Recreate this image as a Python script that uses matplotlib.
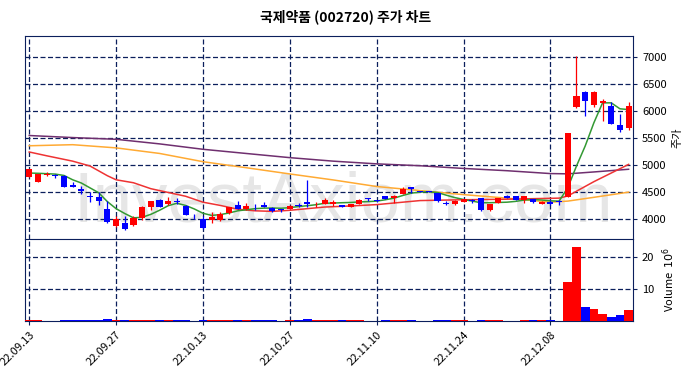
import matplotlib.pyplot as plt
import numpy as np

plt.rcParams['font.family'] = ['Noto Sans CJK KR', 'DejaVu Sans']

# 거래일 눈금 (10일 간격)
tick_pos = [0, 10, 20, 30, 40, 50, 60]
tick_labels = ['22.09.13', '22.09.27', '22.10.13', '22.10.27', '22.11.10', '22.11.24', '22.12.08']

# 일봉 OHLC
opens = [4770, 4690, 4820, 4810, 4800, 4630, 4560, 4420, 4410, 4190,
         3865, 3930, 3880, 4020, 4220, 4350, 4270, 4330, 4240, 4055,
         4000, 3975, 3980, 4110, 4260, 4180, 4225, 4260, 4200, 4170,
         4190, 4255, 4310, 4270, 4285, 4285, 4260, 4225, 4285, 4375,
         4340, 4425, 4380, 4460, 4585, 4510, 4505, 4480, 4300, 4270,
         4320, 4345, 4385, 4160, 4295, 4420, 4420, 4345, 4365, 4285,
         4305, 4320, 4400, 6070, 6360, 6115, 6145, 6095, 5735, 5675]
highs = [4930, 4840, 4870, 4835, 4810, 4675, 4610, 4505, 4505, 4340,
         4055, 4060, 4050, 4245, 4340, 4375, 4415, 4385, 4250, 4095,
         4050, 4120, 4125, 4225, 4325, 4295, 4280, 4305, 4220, 4180,
         4250, 4290, 4720, 4320, 4385, 4350, 4265, 4285, 4365, 4380,
         4350, 4430, 4435, 4590, 4590, 4520, 4515, 4485, 4335, 4350,
         4375, 4375, 4390, 4285, 4390, 4440, 4425, 4430, 4370, 4325,
         4350, 4345, 5600, 7010, 6370, 6365, 6225, 6175, 5950, 6165]
lows = [4770, 4680, 4795, 4760, 4590, 4585, 4470, 4310, 4265, 3925,
        3850, 3800, 3870, 3975, 4170, 4215, 4265, 4280, 4075, 4005,
        3820, 3925, 3960, 4100, 4185, 4165, 4170, 4215, 4130, 4120,
        4185, 4215, 4230, 4230, 4275, 4240, 4215, 4215, 4280, 4330,
        4310, 4370, 4295, 4455, 4485, 4490, 4495, 4320, 4265, 4265,
        4315, 4300, 4155, 4140, 4290, 4380, 4355, 4295, 4300, 4280,
        4250, 4250, 4400, 6060, 5910, 6070, 5805, 5760, 5605, 5655]
closes = [4925, 4830, 4840, 4795, 4600, 4590, 4510, 4410, 4340, 3945,
          4000, 3820, 4020, 4220, 4330, 4220, 4330, 4310, 4080, 4045,
          3825, 4035, 4100, 4220, 4190, 4240, 4215, 4225, 4155, 4160,
          4240, 4245, 4275, 4280, 4350, 4315, 4225, 4280, 4350, 4370,
          4335, 4375, 4430, 4550, 4555, 4500, 4500, 4325, 4270, 4340,
          4365, 4340, 4160, 4280, 4385, 4390, 4355, 4425, 4305, 4320,
          4275, 4310, 5600, 6270, 6180, 6360, 6190, 5765, 5640, 6100]
# 거래량 (백만 주)
volume = [0.25, 0.2, 0.1, 0.1, 0.2, 0.15, 0.15, 0.2, 0.2, 0.5,
          0.3, 0.2, 0.2, 0.25, 0.2, 0.15, 0.2, 0.15, 0.2, 0.1,
          0.2, 0.2, 0.15, 0.2, 0.15, 0.2, 0.15, 0.15, 0.15, 0.1,
          0.15, 0.15, 0.5, 0.15, 0.2, 0.15, 0.15, 0.15, 0.2, 0.1,
          0.1, 0.15, 0.2, 0.3, 0.2, 0.1, 0.1, 0.25, 0.15, 0.2,
          0.15, 0.1, 0.25, 0.2, 0.2, 0.1, 0.1, 0.2, 0.15, 0.15,
          0.15, 0.1, 12.0, 23.2, 4.2, 3.75, 2.2, 1.25, 1.9, 3.4]

# 이동평균선
ma5 = [4850, 4845, 4838, 4830, 4805, 4725, 4665, 4575, 4485, 4320,
       4190, 4100, 4020, 4030, 4085, 4160, 4245, 4290, 4250, 4185,
       4105, 4065, 4080, 4110, 4150, 4170, 4190, 4200, 4202, 4198,
       4208, 4230, 4244, 4263, 4290, 4294, 4300, 4305, 4315, 4320,
       4330, 4355, 4385, 4434, 4478, 4496, 4505, 4490, 4440, 4395,
       4360, 4330, 4300, 4300, 4305, 4310, 4325, 4350, 4360, 4350,
       4335, 4330, 4580, 4980, 5350, 5780, 6150, 6150, 6040, 6025]
ma20_idx = [0, 2, 5, 7, 9, 10, 12, 14, 16, 18, 20, 22, 24, 26, 28, 30, 32, 34,
            37, 40, 43, 45, 50, 55, 61, 62, 65, 69]
ma20 = [5240, 5170, 5070, 4980, 4800, 4725, 4670, 4560, 4490, 4420, 4310, 4250,
        4180, 4150, 4140, 4160, 4190, 4220, 4240, 4265, 4310, 4340, 4355, 4365,
        4385, 4425, 4690, 5010]
ma60_idx = [0, 5, 10, 15, 20, 25, 30, 35, 40, 45, 50, 55, 60, 62, 65, 69]
ma60 = [5355, 5375, 5316, 5213, 5060, 4948, 4833, 4722, 4600, 4525, 4450,
        4385, 4310, 4330, 4400, 4496]
ma120_idx = [0, 5, 10, 15, 20, 25, 30, 35, 40, 45, 50, 55, 60, 62, 65, 69]
ma120 = [5545, 5507, 5475, 5390, 5290, 5212, 5135, 5070, 5020, 4985, 4935,
         4893, 4840, 4835, 4870, 4920]

navy = '#0b1f5c'
up_c = '#ff0000'
dn_c = '#0000ff'

x = np.arange(len(closes))
colors = [up_c if c >= o else dn_c for o, c in zip(opens, closes)]

fig = plt.figure(figsize=(6.91, 3.78), dpi=100)
ax1 = fig.add_axes([0.036, 0.368, 0.880, 0.537])
ax2 = fig.add_axes([0.036, 0.151, 0.880, 0.217], sharex=ax1)

# 워터마크
ax1.text(0.523, 0.084, 'InvestAxiom.com', transform=ax1.transAxes, fontsize=51,
         family='Liberation Sans', color='#e6e6e6', ha='center', va='baseline', zorder=0)

# 이동평균선
ax1.plot(ma120_idx, ma120, color='#6f2f6f', lw=1.1, zorder=2)
ax1.plot(ma60_idx, ma60, color='#ffaa33', lw=1.1, zorder=2)
ax1.plot(ma20_idx, ma20, color='#ee3333', lw=1.1, zorder=2)
ax1.plot(x, ma5, color='#339933', lw=1.1, zorder=2)

# 캔들
body = [max(abs(c - o), 15) for o, c in zip(opens, closes)]
bottom = [min(o, c) for o, c in zip(opens, closes)]
ax1.vlines(x, lows, highs, colors=colors, lw=0.9, zorder=3)
ax1.bar(x, body, bottom=bottom, width=0.7, color=colors, zorder=4)

ax1.set_xlim(-0.5, 69.5)
ax1.set_ylim(3630, 7390)
ax1.set_yticks(np.arange(4000, 7001, 500))
ax1.yaxis.tick_right()
ax1.yaxis.set_label_position('right')
ax1.set_ylabel('주가', fontsize=8, labelpad=4)
ax1.grid(True, color=navy, linestyle=(0, (4, 2)), lw=0.9)
ax1.tick_params(axis='x', labelbottom=False, length=0)
ax1.tick_params(axis='y', labelsize=8, color=navy, length=3)
for s in ax1.spines.values():
    s.set_color(navy)
ax1.spines['bottom'].set_color('#cccccc')

fig.text(0.5, 0.955, '국제약품 (002720) 주가 차트', fontsize=10, fontweight='bold',
         ha='center', va='center')

# 거래량
ax2.bar(x, volume, width=1.0, color=colors, zorder=3)
ax2.set_ylim(0, 25.6)
ax2.set_yticks([10, 20])
ax2.yaxis.tick_right()
ax2.yaxis.set_label_position('right')
ax2.set_ylabel('Volume  $10^6$', fontsize=8, labelpad=4)
ax2.set_xticks(tick_pos)
ax2.set_xticklabels(tick_labels, rotation=45, ha='right', rotation_mode='anchor', fontsize=8)
ax2.grid(True, color=navy, linestyle=(0, (4, 2)), lw=0.9)
ax2.tick_params(axis='both', labelsize=8, color=navy, length=3)
for s in ax2.spines.values():
    s.set_color(navy)

fig.savefig('out.png', dpi=100)
